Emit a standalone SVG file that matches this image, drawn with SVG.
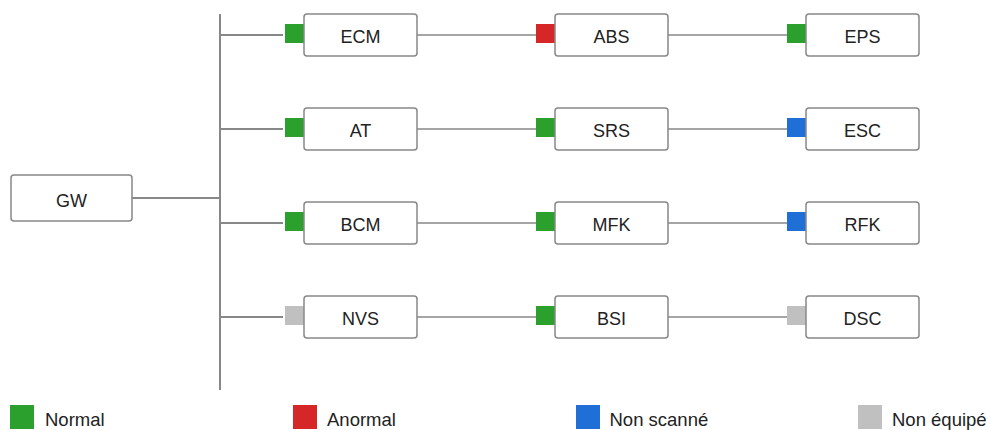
<svg xmlns="http://www.w3.org/2000/svg" width="990" height="430" viewBox="0 0 990 430">
<style>
.box{fill:#fff;stroke:#888;stroke-width:1.5}
.lbl{font-family:"Liberation Sans",Arial,sans-serif;font-size:18px;fill:#222;text-anchor:middle}
.leg{font-family:"Liberation Sans",Arial,sans-serif;font-size:18.5px;fill:#222}
.trunk{stroke:#888;stroke-width:2;fill:none}
.link{stroke:#888;stroke-width:1.5;fill:none}
.g{fill:#2ca02c}.r{fill:#d62728}.b{fill:#1f6fd6}.n{fill:#c0c0c0}
</style>
<rect width="990" height="430" fill="#fff"/>
<g id="connectors">
<path class="trunk" d="M220 14V390M132 198H220M220 35H283M220 129H283M220 223H283M220 317H283"/>
<path class="link" d="M417 35H536M668 35H787M417 129H536M668 129H787M417 223H536M668 223H787M417 317H536M668 317H787"/>
</g>
<g id="GW"><rect class="box" x="11" y="175" width="121" height="46" rx="3"/><text class="lbl" x="71.5" y="207">GW</text></g>
<g id="ECM"><rect class="g" x="285" y="24" width="19" height="19"/><rect class="box" x="304" y="14" width="113" height="42" rx="3"/><text class="lbl" x="360.5" y="43">ECM</text></g>
<g id="ABS"><rect class="r" x="536" y="24" width="19" height="19"/><rect class="box" x="555" y="14" width="113" height="42" rx="3"/><text class="lbl" x="611.5" y="43">ABS</text></g>
<g id="EPS"><rect class="g" x="787" y="24" width="19" height="19"/><rect class="box" x="806" y="14" width="113" height="42" rx="3"/><text class="lbl" x="862.5" y="43">EPS</text></g>
<g id="AT"><rect class="g" x="285" y="118" width="19" height="19"/><rect class="box" x="304" y="108" width="113" height="42" rx="3"/><text class="lbl" x="360.5" y="137">AT</text></g>
<g id="SRS"><rect class="g" x="536" y="118" width="19" height="19"/><rect class="box" x="555" y="108" width="113" height="42" rx="3"/><text class="lbl" x="611.5" y="137">SRS</text></g>
<g id="ESC"><rect class="b" x="787" y="118" width="19" height="19"/><rect class="box" x="806" y="108" width="113" height="42" rx="3"/><text class="lbl" x="862.5" y="137">ESC</text></g>
<g id="BCM"><rect class="g" x="285" y="212" width="19" height="19"/><rect class="box" x="304" y="202" width="113" height="42" rx="3"/><text class="lbl" x="360.5" y="231">BCM</text></g>
<g id="MFK"><rect class="g" x="536" y="212" width="19" height="19"/><rect class="box" x="555" y="202" width="113" height="42" rx="3"/><text class="lbl" x="611.5" y="231">MFK</text></g>
<g id="RFK"><rect class="b" x="787" y="212" width="19" height="19"/><rect class="box" x="806" y="202" width="113" height="42" rx="3"/><text class="lbl" x="862.5" y="231">RFK</text></g>
<g id="NVS"><rect class="n" x="285" y="306" width="19" height="19"/><rect class="box" x="304" y="296" width="113" height="42" rx="3"/><text class="lbl" x="360.5" y="325">NVS</text></g>
<g id="BSI"><rect class="g" x="536" y="306" width="19" height="19"/><rect class="box" x="555" y="296" width="113" height="42" rx="3"/><text class="lbl" x="611.5" y="325">BSI</text></g>
<g id="DSC"><rect class="n" x="787" y="306" width="19" height="19"/><rect class="box" x="806" y="296" width="113" height="42" rx="3"/><text class="lbl" x="862.5" y="325">DSC</text></g>
<g id="legend">
<rect class="g" x="10" y="405" width="24" height="24"/><text class="leg" x="45" y="426">Normal</text>
<rect class="r" x="293" y="405" width="24" height="24"/><text class="leg" x="327" y="426">Anormal</text>
<rect class="b" x="576" y="405" width="24" height="24"/><text class="leg" x="609.5" y="426">Non scanné</text>
<rect class="n" x="858" y="405" width="24" height="24"/><text class="leg" x="892" y="426">Non équipé</text>
</g>
</svg>
